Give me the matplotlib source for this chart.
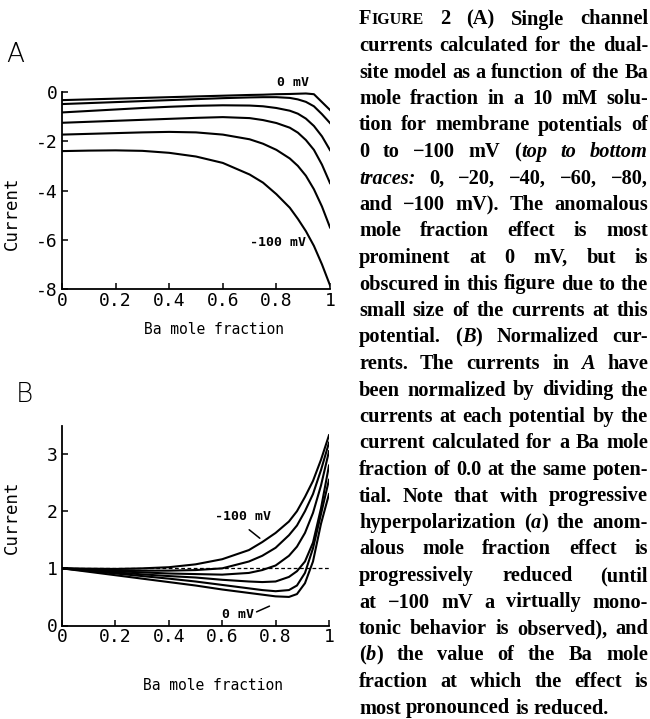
import matplotlib
matplotlib.use('Agg')
import matplotlib.pyplot as plt

plt.rcParams['font.family'] = 'DejaVu Sans Mono'
plt.rcParams['axes.unicode_minus'] = False

# ---------------- data ----------------
ba_fraction = [0, 0.1, 0.2, 0.3, 0.4, 0.5, 0.6, 0.7, 0.75, 0.8, 0.85, 0.88, 0.91, 0.94, 0.97, 1.0]
potential_labels = ['0 mV', '-20 mV', '-40 mV', '-60 mV', '-80 mV', '-100 mV']

# Panel A: single-channel currents
current_0mV   = [-0.33, -0.30, -0.27, -0.24, -0.21, -0.18, -0.15, -0.12, -0.11, -0.09, -0.08, -0.07, -0.06, -0.09, -0.41, -0.73]
current_20mV  = [-0.49, -0.45, -0.41, -0.37, -0.33, -0.29, -0.25, -0.22, -0.21, -0.21, -0.24, -0.30, -0.40, -0.58, -0.90, -1.26]
current_40mV  = [-0.83, -0.77, -0.71, -0.65, -0.60, -0.56, -0.54, -0.55, -0.58, -0.65, -0.76, -0.88, -1.08, -1.38, -1.80, -2.36]
current_60mV  = [-1.25, -1.21, -1.17, -1.13, -1.09, -1.05, -1.02, -1.06, -1.14, -1.26, -1.45, -1.65, -1.95, -2.35, -2.95, -3.70]
current_80mV  = [-1.73, -1.70, -1.67, -1.64, -1.62, -1.64, -1.73, -1.92, -2.10, -2.35, -2.70, -3.00, -3.40, -3.95, -4.65, -5.50]
current_100mV = [-2.40, -2.38, -2.37, -2.39, -2.47, -2.62, -2.88, -3.35, -3.68, -4.15, -4.70, -5.15, -5.65, -6.25, -7.00, -7.85]

# Panel B: normalized currents
norm_0mV   = [1.0, 0.94, 0.88, 0.82, 0.76, 0.70, 0.63, 0.57, 0.54, 0.51, 0.50, 0.55, 0.74, 1.12, 1.78, 2.30]
norm_20mV  = [1.0, 0.955, 0.91, 0.865, 0.82, 0.77, 0.71, 0.65, 0.62, 0.60, 0.62, 0.70, 0.92, 1.35, 1.95, 2.55]
norm_40mV  = [1.0, 0.965, 0.93, 0.895, 0.865, 0.84, 0.80, 0.77, 0.76, 0.77, 0.85, 0.95, 1.12, 1.45, 2.05, 2.80]
norm_60mV  = [1.0, 0.975, 0.95, 0.93, 0.91, 0.90, 0.89, 0.92, 0.97, 1.05, 1.22, 1.38, 1.62, 1.97, 2.45, 3.05]
norm_80mV  = [1.0, 0.985, 0.97, 0.96, 0.96, 0.97, 1.00, 1.12, 1.22, 1.36, 1.58, 1.75, 2.00, 2.30, 2.72, 3.20]
norm_100mV = [1.0, 0.995, 0.99, 1.00, 1.02, 1.07, 1.16, 1.32, 1.46, 1.62, 1.82, 2.00, 2.25, 2.53, 2.90, 3.33]

x_ticks = [0, 0.2, 0.4, 0.6, 0.8, 1]
x_ticklabels = ['0', '0.2', '0.4', '0.6', '0.8', '1']
a_yticks = [-8, -6, -4, -2, 0]
a_yticklabels = ['-8', '-6', '-4', '-2', '0']
b_yticks = [0, 1, 2, 3]
b_yticklabels = ['0', '1', '2', '3']
x_label = 'Ba mole fraction'
y_label = 'Current'

caption_lines = [
    "F^IGURE^ 2 (A) Single channel",
    "currents calculated for the dual-",
    "site model as a function of the Ba",
    "mole fraction in a 10 mM solu-",
    "tion for membrane potentials of",
    "0 to \u2212100 mV (*top to bottom*",
    "*traces:* 0, \u221220, \u221240, \u221260, \u221280,",
    "and \u2212100 mV). The anomalous",
    "mole fraction effect is most",
    "prominent at 0 mV, but is",
    "obscured in this figure due to the",
    "small size of the currents at this",
    "potential. (*B*) Normalized cur-",
    "rents. The currents in *A* have",
    "been normalized by dividing the",
    "currents at each potential by the",
    "current calculated for a Ba mole",
    "fraction of 0.0 at the same poten-",
    "tial. Note that with progressive",
    "hyperpolarization (*a*) the anom-",
    "alous mole fraction effect is",
    "progressively reduced (until",
    "at \u2212100 mV a virtually mono-",
    "tonic behavior is observed), and",
    "(*b*) the value of the Ba mole",
    "fraction at which the effect is",
    "most pronounced is reduced.",
]

# ---------------- figure ----------------
FW, FH = 650, 719
fig = plt.figure(figsize=(FW / 100, FH / 100), dpi=100)


def rect(l, t, r, b):
    return [l / FW, 1 - b / FH, (r - l) / FW, (b - t) / FH]


def fpos(x, y):
    return x / FW, 1 - y / FH


axA = fig.add_axes(rect(62, 92, 330, 289))
axB = fig.add_axes(rect(62, 425.5, 329, 625.5))

for ax in (axA, axB):
    for s in ('top', 'right'):
        ax.spines[s].set_visible(False)
    for s in ('left', 'bottom'):
        ax.spines[s].set_linewidth(1.3)
    ax.tick_params(direction='in', length=4, width=1.1, labelsize=13, pad=3)
    ax.tick_params(axis='x', pad=2)
    ax.set_xlim(0, 1)
    ax.set_xticks(x_ticks)
    ax.set_xticklabels(x_ticklabels)
    ax.set_xlabel(x_label, fontsize=10.5)
    ax.set_ylabel(y_label, fontsize=12.5)

seriesA = [current_0mV, current_20mV, current_40mV, current_60mV, current_80mV, current_100mV]
for ys in seriesA:
    axA.plot(ba_fraction, ys, color='black', lw=1.5, solid_joinstyle='round')
axA.set_ylim(-8, 0)
axA.set_yticks(a_yticks)
axA.set_yticklabels(a_yticklabels)
axA.xaxis.set_label_coords(0.567, -0.17)
axA.yaxis.set_label_coords(-0.155, 0.386)

seriesB = [norm_0mV, norm_20mV, norm_40mV, norm_60mV, norm_80mV, norm_100mV]
for ys in seriesB:
    axB.plot(ba_fraction, ys, color='black', lw=1.5, solid_joinstyle='round')
axB.axhline(1.0, color='black', lw=0.9, ls=(0, (3, 2)))
axB.set_ylim(0, 3.5)
axB.set_yticks(b_yticks)
axB.set_yticklabels(b_yticklabels)
axB.xaxis.set_label_coords(0.567, -0.26)
axB.yaxis.set_label_coords(-0.155, 0.54)

# trace annotations
fig.text(*fpos(293, 83), potential_labels[0], ha='center', va='center', fontsize=9.5, weight='bold')
fig.text(*fpos(278, 242), potential_labels[-1], ha='center', va='center', fontsize=9.5, weight='bold')
fig.text(*fpos(243, 517), potential_labels[-1], ha='center', va='center', fontsize=9.5, weight='bold')
fig.text(*fpos(238, 615), potential_labels[0], ha='center', va='center', fontsize=9.5, weight='bold')
axB.annotate('', xy=fpos(262, 540), xytext=fpos(247, 528), xycoords='figure fraction',
             textcoords='figure fraction', arrowprops=dict(arrowstyle='-', lw=1.1, color='black'))
axB.annotate('', xy=fpos(272, 605), xytext=fpos(254, 613), xycoords='figure fraction',
             textcoords='figure fraction', arrowprops=dict(arrowstyle='-', lw=1.1, color='black'))

# panel letters
fig.text(*fpos(15, 55), 'A', ha='center', va='center', fontsize=19, family='DejaVu Sans', weight='light')
fig.text(*fpos(24, 394), 'B', ha='center', va='center', fontsize=19, family='DejaVu Sans', weight='light')

# ---------------- caption (justified) ----------------
CAP_FAMILY = ['Liberation Serif', 'DejaVu Serif']
X0, X1 = 359, 648
Y_FIRST, DY = 24.5, 26.5


def parse_line(line):
    words = []
    cur = []
    seg = ''
    it = False
    sc = False
    for ch in line:
        if ch in '*^ ':
            if seg:
                cur.append((seg, it, sc))
                seg = ''
            if ch == '*':
                it = not it
            elif ch == '^':
                sc = not sc
            else:
                if cur:
                    words.append(cur)
                cur = []
        else:
            seg += ch
    if seg:
        cur.append((seg, it, sc))
    if cur:
        words.append(cur)
    return words


renderer = fig.canvas.get_renderer()
base = 10.0
all_lines = []
for line in caption_lines:
    wl = []
    for word in parse_line(line):
        segs = []
        for text, it, sc in word:
            t = fig.text(0, 0, text.upper() if sc else text, family=CAP_FAMILY,
                         weight='bold', style='italic' if it else 'normal',
                         fontsize=base * (0.78 if sc else 1.0), va='baseline', ha='left')
            segs.append((t, sc))
        wl.append(segs)
    all_lines.append(wl)


def measure(size):
    for wl in all_lines:
        for segs in wl:
            for t, sc in segs:
                t.set_fontsize(size * (0.78 if sc else 1.0))
    widths = []
    for wl in all_lines:
        ww = []
        for segs in wl:
            ww.append([t.get_window_extent(renderer).width for t, sc in segs])
        widths.append(ww)
    return widths


W = X1 - X0
w10 = measure(base)
space10 = 0.25 * base * 100 / 72
nat = [sum(sum(w) for w in ww) + space10 * (len(ww) - 1) for ww in w10]
size = base * W / max(nat) * 0.995
wid = measure(size)
space = 0.25 * size * 100 / 72

for i, (wl, ww) in enumerate(zip(all_lines, wid)):
    total = sum(sum(w) for w in ww)
    last = (i == len(all_lines) - 1)
    if len(ww) > 1 and not last:
        gap = (W - total) / (len(ww) - 1)
    else:
        gap = space
    x = X0
    y = Y_FIRST + i * DY
    for segs, wseg in zip(wl, ww):
        for (t, sc), w in zip(segs, wseg):
            t.set_position(fpos(x, y))
            x += w
        x += gap

fig.savefig('out.png', dpi=100)
